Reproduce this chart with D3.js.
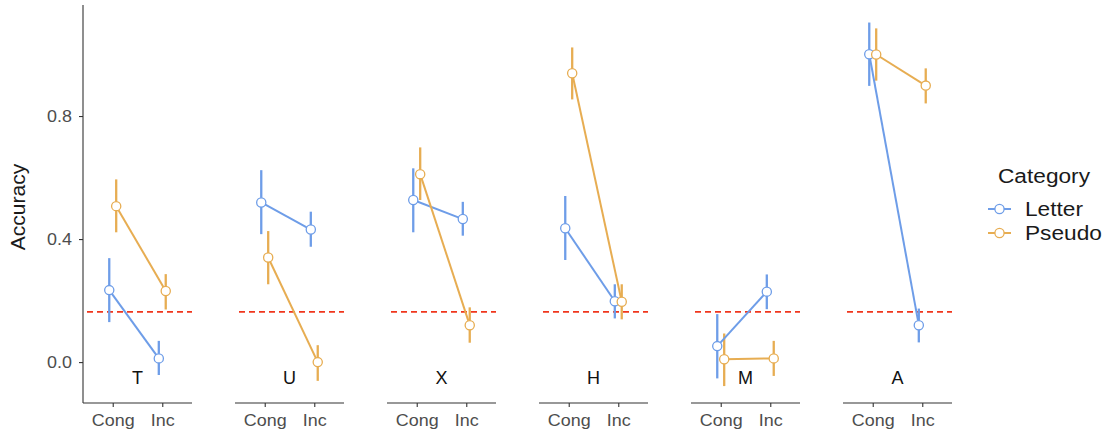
<!DOCTYPE html>
<html>
<head>
<meta charset="utf-8">
<script src="https://cdn.jsdelivr.net/npm/d3@7"></script>
<style>
  html, body { margin: 0; padding: 0; background: #fff; }
  svg { display: block; font-family: "Liberation Sans", Arial, sans-serif; }
</style>
</head>
<body>
<svg id="chart" width="1110" height="439"></svg>
<script>
// Stimulus letters (one facet each) and conditions
const letters = ["T", "U", "X", "H", "M", "A"];
const conditions = ["Cong", "Inc"];
const categories = ["Letter", "Pseudo"];
const yTicks = [0.0, 0.4, 0.8];
const chance = 0.163;

// Mean accuracy per letter: [Cong, Inc]
const letterMean = {
  T: [0.234, 0.012], U: [0.519, 0.431], X: [0.527, 0.465],
  H: [0.435, 0.198], M: [0.052, 0.229], A: [1.001, 0.120]
};
const letterLo = {
  T: [0.130, -0.042], U: [0.416, 0.375], X: [0.422, 0.411],
  H: [0.332, 0.142], M: [-0.053, 0.172], A: [0.898, 0.064]
};
const letterHi = {
  T: [0.338, 0.069], U: [0.624, 0.489], X: [0.630, 0.521],
  H: [0.540, 0.253], M: [0.156, 0.285], A: [1.104, 0.174]
};
const pseudoMean = {
  T: [0.507, 0.231], U: [0.340, 0.000], X: [0.611, 0.120],
  H: [0.939, 0.196], M: [0.009, 0.012], A: [1.000, 0.899]
};
const pseudoLo = {
  T: [0.422, 0.171], U: [0.253, -0.061], X: [0.527, 0.063],
  H: [0.854, 0.139], M: [-0.078, -0.045], A: [0.915, 0.841]
};
const pseudoHi = {
  T: [0.594, 0.286], U: [0.426, 0.055], X: [0.698, 0.178],
  H: [1.023, 0.253], M: [0.093, 0.069], A: [1.085, 0.955]
};

const colors = { Letter: "#6e9de8", Pseudo: "#e7ad52" };
const series = {
  Letter: { mean: letterMean, lo: letterLo, hi: letterHi },
  Pseudo: { mean: pseudoMean, lo: pseudoLo, hi: pseudoHi }
};

const svg = d3.select("#chart");

// Layout
const plotTop = 5, plotBottom = 403;
const firstPanelX = 83, panelWidth = 109, panelStep = 152;
const textStretch = "scale(1.12,1)";

const y = d3.scaleLinear().domain([-0.133, 1.161]).range([plotBottom, plotTop]);
const panelScale = d3.scaleBand().domain(letters)
  .range([firstPanelX, firstPanelX + panelStep * (letters.length - 1) + panelWidth])
  .paddingInner(1 - panelWidth / panelStep).paddingOuter(0).align(0);
const dodge = d3.scaleOrdinal().domain(categories).range([-0.07, 0.07]);

// Y axis (left of first panel only)
const yAxis = d3.axisLeft(y).tickValues(yTicks).tickFormat(d3.format(".1f")).tickSize(4).tickPadding(4);
const yG = svg.append("g").attr("transform", `translate(${firstPanelX},0)`).call(yAxis);
yG.select(".domain").attr("d", `M0,${plotTop}V${plotBottom}`).attr("stroke", "#333").attr("stroke-width", 1.1);
yG.selectAll(".tick line").attr("stroke", "#333").attr("stroke-width", 1.1);
yG.selectAll(".tick text").attr("fill", "#4d4d4d").style("font-size", "16px")
  .attr("transform", textStretch).attr("x", -11 / 1.12);

svg.append("text")
  .attr("transform", `translate(25,${(plotTop + plotBottom) / 2 + 3}) rotate(-90)`)
  .attr("text-anchor", "middle")
  .attr("fill", "#1a1a1a")
  .style("font-size", "21px")
  .text("Accuracy");

letters.forEach(letter => {
  const x0 = panelScale(letter);
  const x = d3.scalePoint().domain(conditions).range([x0, x0 + panelScale.bandwidth()]).padding(0.6);
  const step = x.step();
  const g = svg.append("g");

  // X axis
  const xAxis = d3.axisBottom(x).tickSize(4).tickPadding(8);
  const xG = g.append("g").attr("transform", `translate(0,${plotBottom})`).call(xAxis);
  xG.select(".domain").attr("d", `M${x0},0H${x0 + panelScale.bandwidth()}`).attr("stroke", "#333").attr("stroke-width", 1.1);
  xG.selectAll(".tick line").attr("stroke", "#333").attr("stroke-width", 1.1);
  xG.selectAll(".tick text").attr("fill", "#4d4d4d").style("font-size", "16px").attr("transform", textStretch);

  // Chance line
  g.append("line")
    .attr("x1", x0 + 4).attr("x2", x0 + panelScale.bandwidth())
    .attr("y1", y(chance)).attr("y2", y(chance))
    .attr("stroke", "#f0361c").attr("stroke-width", 1.7)
    .attr("stroke-dasharray", "6,4");

  // Facet label
  g.append("text")
    .attr("x", x0 + panelScale.bandwidth() / 2)
    .attr("y", 384)
    .attr("text-anchor", "middle")
    .attr("fill", "#111")
    .style("font-size", "18px")
    .text(letter);

  const px = (cat, cond) => x(cond) + dodge(cat) * step;

  // Error bars
  categories.forEach(cat => {
    const s = series[cat];
    g.selectAll(null).data(conditions).enter().append("line")
      .attr("x1", c => px(cat, c)).attr("x2", c => px(cat, c))
      .attr("y1", (c, i) => y(s.lo[letter][i]))
      .attr("y2", (c, i) => y(s.hi[letter][i]))
      .attr("stroke", colors[cat]).attr("stroke-width", 2.3);
  });
  // Connecting lines
  categories.forEach(cat => {
    const s = series[cat];
    const line = d3.line().x(c => px(cat, c)).y((c, i) => y(s.mean[letter][i]));
    g.append("path").datum(conditions).attr("d", line)
      .attr("fill", "none").attr("stroke", colors[cat]).attr("stroke-width", 2);
  });
  // Points
  categories.forEach(cat => {
    const s = series[cat];
    g.selectAll(null).data(conditions).enter().append("circle")
      .attr("cx", c => px(cat, c))
      .attr("cy", (c, i) => y(s.mean[letter][i]))
      .attr("r", 4.6)
      .attr("fill", "#fff").attr("stroke", colors[cat]).attr("stroke-width", 1.3);
  });
});

// Legend
const legend = svg.append("g");
legend.append("text").attr("x", 998).attr("y", 183).attr("fill", "#1a1a1a")
  .style("font-size", "21px").attr("transform", "translate(998,0) scale(1.08,1) translate(-998,0)")
  .text("Category");
categories.forEach((cat, i) => {
  const ly = 209 + i * 24;
  legend.append("line").attr("x1", 988).attr("x2", 1011).attr("y1", ly).attr("y2", ly)
    .attr("stroke", colors[cat]).attr("stroke-width", 2);
  legend.append("circle").attr("cx", 999.5).attr("cy", ly).attr("r", 4.6)
    .attr("fill", "#fff").attr("stroke", colors[cat]).attr("stroke-width", 1.3);
  legend.append("text").attr("x", 1025).attr("y", ly + 7).attr("fill", "#1a1a1a")
    .style("font-size", "21px").attr("transform", "translate(1025,0) scale(1.08,1) translate(-1025,0)")
    .text(cat);
});
</script>
</body>
</html>
